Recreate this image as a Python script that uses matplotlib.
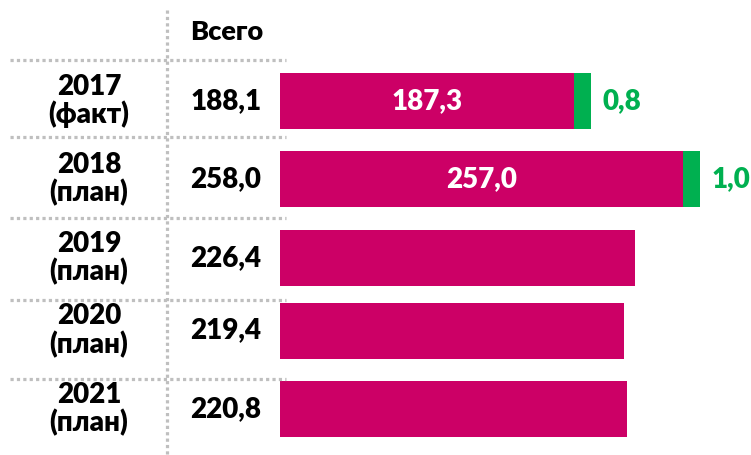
import matplotlib.pyplot as plt
import matplotlib.transforms as mtransforms

years = ["2017\n(факт)", "2018\n(план)", "2019\n(план)", "2020\n(план)", "2021\n(план)"]
totals = ["188,1", "258,0", "226,4", "219,4", "220,8"]
main_vals = [187.3, 257.0, 226.4, 219.4, 220.8]
extra_vals = [0.8, 1.0, 0.0, 0.0, 0.0]

magenta = "#CC0066"
green = "#00B050"
grid_c = "#BFBFBF"

plt.rcParams['font.family'] = ['Lato', 'DejaVu Sans']

W, H = 751, 455
fig = plt.figure(figsize=(W / 100, H / 100), dpi=100)
x0 = 280
ax = fig.add_axes([x0 / W, 0, 1 - x0 / W, 1])
ax.set_xlim(0, (W - x0) / 1.57)
ax.set_ylim(4.58, -1.307)
ax.axis('off')

# small segments would be invisible at this scale, so give them a minimum width
min_w = 10.5
fw = 'heavy'

ypos = [0, 1.01, 2.03, 2.97, 3.99]
for i, y in enumerate(ypos):
    ax.barh(y, main_vals[i], height=0.725, color=magenta, left=0)
    if extra_vals[i] > 0:
        w = max(extra_vals[i], min_w)
        ax.barh(y, w, height=0.725, color=green, left=main_vals[i])
        ax.text(main_vals[i] / 2, y, f"{main_vals[i]:.1f}".replace('.', ','),
                color='white', ha='center', va='center', fontsize=20, fontweight=fw)
        ax.text(main_vals[i] + w + 7.5, y, f"{extra_vals[i]:.1f}".replace('.', ','),
                color=green, ha='left', va='center', fontsize=20, fontweight=fw)

tr = mtransforms.blended_transform_factory(fig.transFigure, ax.transData)
for i, y in enumerate(ypos):
    fig.text(89 / W, y, years[i], transform=tr, ha='center', va='center',
             fontsize=20, fontweight=fw, linespacing=1.05)
    fig.text(226 / W, y, totals[i], transform=tr, ha='center', va='center',
             fontsize=20, fontweight=fw)
fig.text(190 / W, 1 - 32 / H, "Всего", ha='left', va='center',
         fontsize=19.5, fontweight=fw)

# dotted separators
for ys in [-0.53, 0.46, 1.51, 2.58, 3.6]:
    fig.add_artist(plt.Line2D([10 / W, 286 / W], [ys, ys], transform=tr,
                              color=grid_c, lw=2.3, ls=(0, (1, 1))))
fig.add_artist(plt.Line2D([167 / W, 167 / W], [1 - 10 / H, 0], color=grid_c, lw=2.3, ls=(0, (1, 1))))

fig.savefig("out.png", dpi=100)
